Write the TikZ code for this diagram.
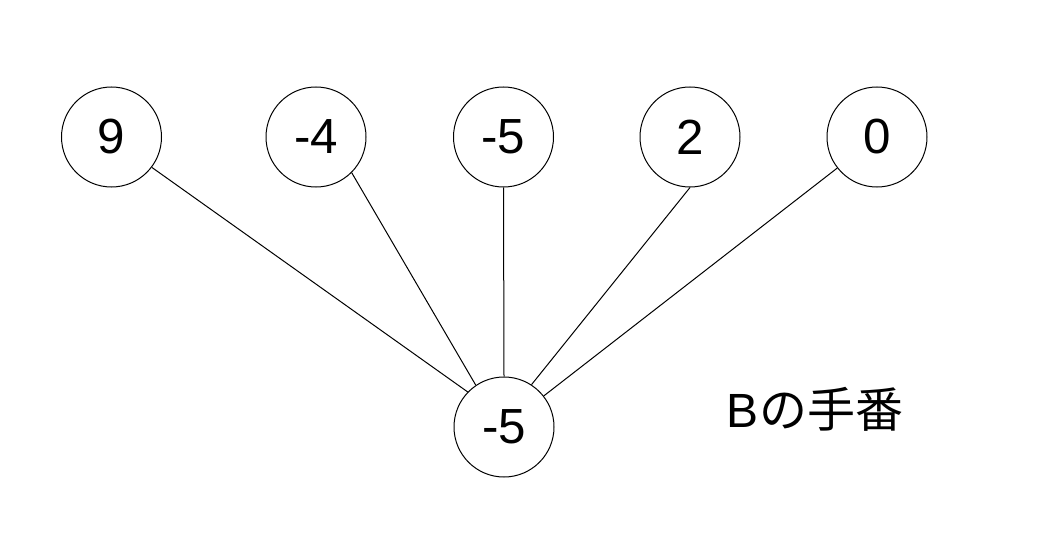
\documentclass[tikz,border=0pt]{standalone}
\usepackage{fontspec}
\setmainfont{Liberation Sans}
\newfontfamily\cjk{Noto Sans CJK JP}
\begin{document}
\begin{tikzpicture}[x=0.75pt,y=-0.75pt,
  val/.style={circle,draw,line width=0.75pt,minimum size=75pt,inner sep=0pt,font=\fontsize{37}{40}\selectfont},
  edge/.style={line width=0.75pt}]
\useasboundingbox (0,0) rectangle (1054,542);
\node[val] (a) at (111.5,137) {9};
\node[val] (b) at (316,137) {-4};
\node[val] (c) at (503.5,137) {-5};
\node[val] (d) at (690,137) {2};
\node[val] (e) at (877,137) {0};
\node[val] (r) at (504,427) {-5};
\node[font=\fontsize{36}{40}\selectfont] (lab) at (815,409) {B{\cjk の手番}};
\draw[edge] (a.-37) -- (r.136);
\draw[edge] (b.-45) -- (r.124);
\draw[edge] (c.-90) -- (r.90);
\draw[edge] (d.-90) -- (r.57);
\draw[edge] (e.-142) -- (r.38);
\end{tikzpicture}
\end{document}
